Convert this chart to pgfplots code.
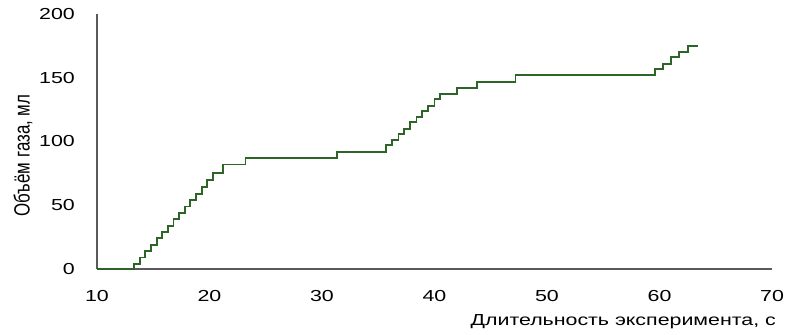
\documentclass[border=0pt]{standalone}
\usepackage{pgfplots}
\pgfplotsset{compat=1.18}
\usepackage{fontspec}
\setmainfont{Liberation Sans}[FakeStretch=1.34]
\newfontfamily\plainfont{Liberation Sans}
\definecolor{lg}{RGB}{45,100,40}
\definecolor{ax}{RGB}{90,90,90}
\begin{document}
\begin{tikzpicture}[font=\fontsize{16}{19}\selectfont]
\useasboundingbox (0,0) rectangle (802bp,335bp);
\begin{axis}[
  at={(97bp,66bp)}, anchor=south west,
  scale only axis, width=675bp, height=255bp,
  xmin=10, xmax=70, ymin=0, ymax=200,
  axis x line=bottom, axis y line=left,
  axis line style={-, draw=ax, line width=1.4pt},
  xtick={10,20,...,70}, ytick={0,50,...,200},
  major tick length=0pt,
  /pgf/number format/assume math mode=true,
  tick label style={font=\fontsize{16}{19}\selectfont},
  label style={font=\fontsize{16}{19}\selectfont},
  xticklabel style={inner sep=0pt, anchor=north, yshift=-21bp},
  yticklabel style={inner sep=0pt, anchor=east, xshift=-22bp},
  xlabel={Длительность эксперимента, с},
  ylabel={\scalebox{1}[1.3]{\fontsize{17}{20}\plainfont Объём газа, мл}},
  every axis x label/.style={at={(axis description cs:1,0)}, anchor=north east, inner sep=0pt, yshift=-45bp, xshift=4bp},
  every axis y label/.style={at={(axis description cs:0,0.445)}, xshift=-74bp, rotate=90, anchor=center},
  clip=false,
]
\addplot[const plot, color=lg, line width=1.9pt] coordinates {
(10,0) (13.3,4) (13.8,9) (14.3,14) (14.8,19) (15.3,24) (15.8,29) (16.3,34)
(16.8,39) (17.3,44) (17.8,49) (18.3,54) (18.8,59) (19.3,64) (19.8,70) (20.3,75)
(21.2,82) (23.2,87) (31.3,92)
(35.7,97) (36.2,101) (36.8,106) (37.3,110) (37.8,115) (38.4,119) (38.9,124) (39.4,128) (40.0,133) (40.5,137)
(42.0,142) (43.8,147) (47.2,152)
(59.6,157) (60.3,161) (61.0,166) (61.7,170) (62.5,175) (63.4,175)
};
\end{axis}
\end{tikzpicture}
\end{document}
